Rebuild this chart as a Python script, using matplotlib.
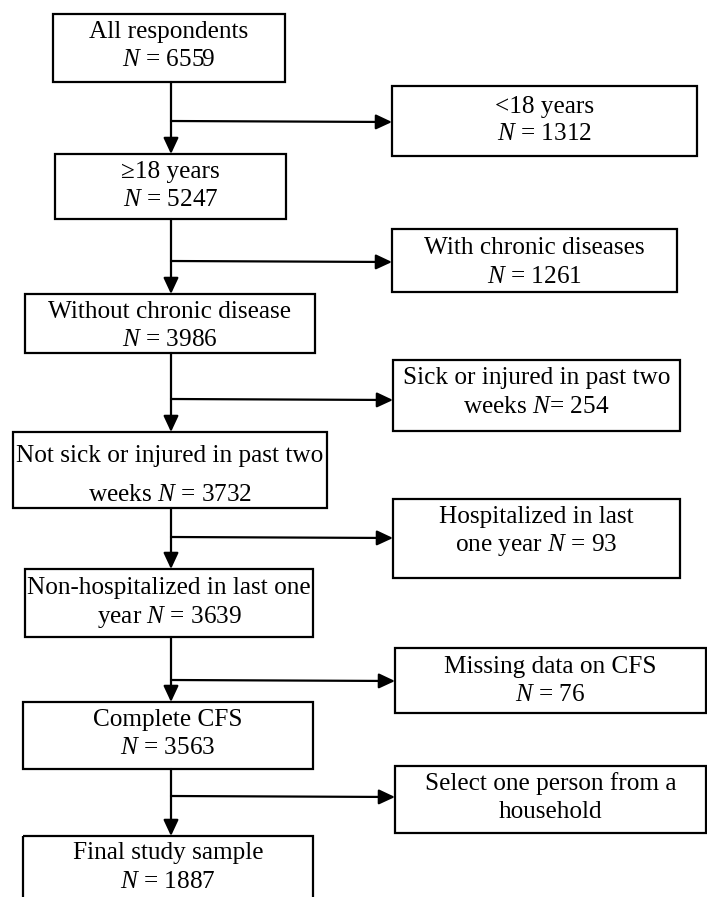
import matplotlib
matplotlib.use("Agg")
import matplotlib.pyplot as plt
from matplotlib.patches import Rectangle

plt.rcParams["font.family"] = ["Liberation Serif", "DejaVu Serif"]
plt.rcParams["mathtext.fontset"] = "custom"
plt.rcParams["mathtext.rm"] = "Liberation Serif"
plt.rcParams["mathtext.it"] = "Liberation Serif:italic"

# flow content
left_text = [
    ["All respondents", "$N$ = 6559"],
    ["\u226518 years", "$N$ = 5247"],
    ["Without chronic disease", "$N$ = 3986"],
    ["Not sick or injured in past two", "weeks $N$ = 3732"],
    ["Non-hospitalized in last one", "year $N$ = 3639"],
    ["Complete CFS", "$N$ = 3563"],
    ["Final study sample", "$N$ = 1887"],
]
right_text = [
    ["<18 years", "$N$ = 1312"],
    ["With chronic diseases", "$N$ = 1261"],
    ["Sick or injured in past two", "weeks $N$= 254"],
    ["Hospitalized in last", "one year $N$ = 93"],
    ["Missing data on CFS", "$N$ = 76"],
    ["Select one person from a", "household"],
]

# layout (pixels): x0, x1, y0, y1, first line y, second line y
left_box = [
    (53, 285, 14, 82, 32, 60),
    (55, 286, 154, 219, 172, 200),
    (25, 315, 294, 353, 312, 340),
    (13, 327, 432, 508, 456, 495),
    (25, 313, 569, 637, 588, 617),
    (23, 313, 702, 769, 720, 748),
    (23, 313, 836, 910, 853, 882),
]
right_box = [
    (392, 697, 86, 156, 107, 134),
    (392, 677, 229, 292, 248, 277),
    (393, 680, 360, 431, 378, 407),
    (393, 680, 499, 578, 517, 545),
    (395, 706, 648, 713, 667, 695),
    (395, 706, 766, 833, 784, 812),
]
branch_y = [121, 261, 399, 537, 680, 796]
stem_x = 171
FS = 18.2

fig = plt.figure(figsize=(7.07, 8.97), dpi=100)
ax = fig.add_axes([0, 0, 1, 1])
ax.set_xlim(0, 707)
ax.set_ylim(897, 0)
ax.axis("off")


def draw_box(b, lines):
    x0, x1, y0, y1, t1, t2 = b
    ax.add_patch(Rectangle((x0, y0), x1 - x0, y1 - y0, fill=False,
                           edgecolor="black", lw=1.6, clip_on=False))
    xc = (x0 + x1) / 2
    for yy, s in zip((t1, t2), lines):
        ax.text(xc, yy, s, ha="center", va="center", fontsize=FS)


def arrow(x0, y0, x1, y1):
    ax.annotate("", xy=(x1, y1), xytext=(x0, y0),
                arrowprops=dict(arrowstyle="-|>,head_length=0.75,head_width=0.35",
                                lw=1.6, color="black", shrinkA=0, shrinkB=0,
                                mutation_scale=13))


for b, t in zip(left_box, left_text):
    draw_box(b, t)
for b, t in zip(right_box, right_text):
    draw_box(b, t)

for i in range(len(left_box) - 1):
    arrow(stem_x, left_box[i][3], stem_x, left_box[i + 1][2])
    by = branch_y[i]
    arrow(stem_x, by, right_box[i][0], by + 1)

fig.savefig("out.png", dpi=100, facecolor="white")
